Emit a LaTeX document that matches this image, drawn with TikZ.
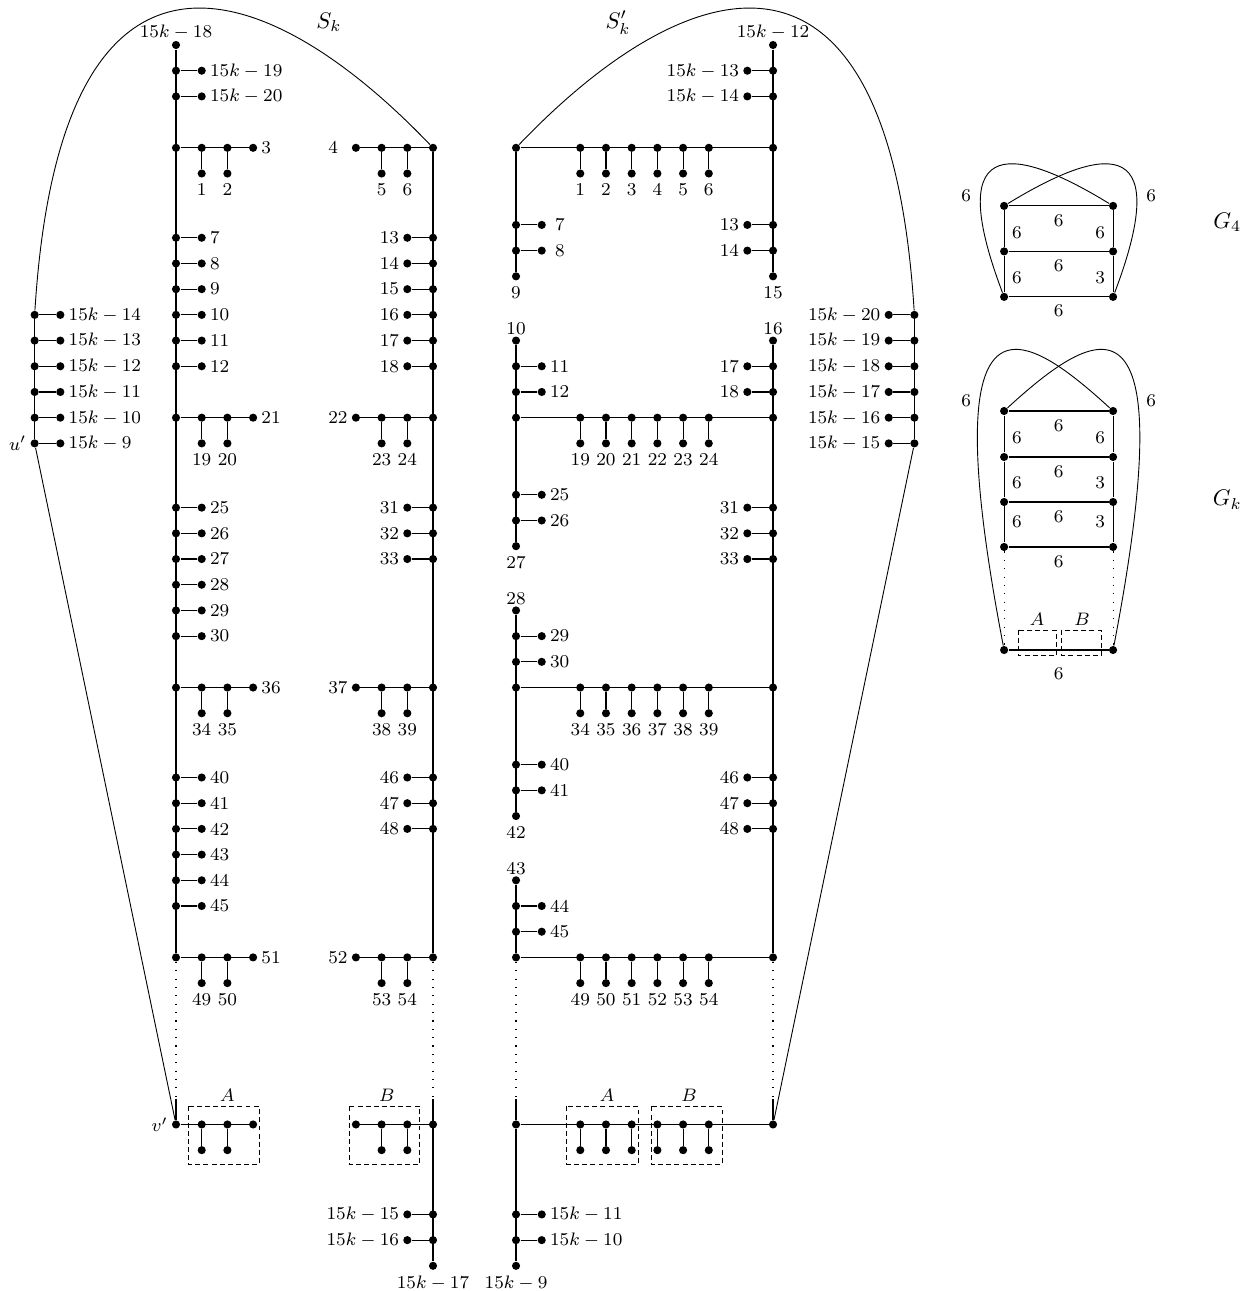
\documentclass[tikz,border=0pt]{standalone}
\usepackage{amsmath}
\usepackage{tikz}
\usetikzlibrary{positioning}
\tikzset{
  vtx/.style={circle, fill=black, inner sep=0pt, minimum size=3.6pt},
  gedge/.style={line width=0.5pt},
  gdots/.style={line width=0.5pt, dash pattern=on 0.5pt off 3.2pt},
  gbox/.style={thin, dash pattern=on 2.2pt off 1.4pt},
  glink/.style={thin},
  labr/.style={label={[inner sep=1.5pt]right:#1}},
  labl/.style={label={[inner sep=1.5pt]left:#1}},
  laba/.style={label={[inner sep=0.4pt]above:#1}},
  labb/.style={label={[inner sep=2.2pt]below:#1}},
  bigname/.style={font=\normalsize}
}

\begin{document}
\begin{tikzpicture}[x=0.4cm, y=0.4cm, font=\footnotesize]
  \useasboundingbox (-6.848,1.751) rectangle (41.83,-48.48);

  % S_k, left spine
  \node[vtx, laba={$15k-18$}] (a0) at (0,0) {};
  \foreach \y/\t [count=\i] in {1/$15k-19$, 2/$15k-20$, 7.5/7, 8.5/8, 9.5/9, 10.5/10, 11.5/11, 12.5/12,
      18/25, 19/26, 20/27, 21/28, 22/29, 23/30, 28.5/40, 29.5/41, 30.5/42, 31.5/43, 32.5/44, 33.5/45}{
    \node[vtx] (ap\i) at (0,-\y) {};
    \node[vtx, labr=\t] (aq\i) at (1,-\y) {};
    \draw[gedge] (ap\i) -- (aq\i);
  }
  \foreach \y/\r/\p/\q [count=\i] in {4/3/1/2, 14.5/21/19/20, 25/36/34/35, 35.5/51/49/50}{
    \node[vtx] (ar\i) at (0,-\y) {};
    \node[vtx] (ar\i-1) at (1,-\y) {};
    \node[vtx] (ar\i-2) at (2,-\y) {};
    \node[vtx, labr=\r] (ar\i-3) at (3,-\y) {};
    \node[vtx, labb=\p] (al\i-1) at (1,-\y-1) {};
    \node[vtx, labb=\q] (al\i-2) at (2,-\y-1) {};
    \draw[gedge] (ar\i) -- (ar\i-3) (ar\i-1) -- (al\i-1) (ar\i-2) -- (al\i-2);
  }
  \node[vtx, labl={$v'$}] (vv) at (0,-42) {};
  \foreach \x in {1,2,3} \node[vtx] (ar5-\x) at (\x,-42) {};
  \foreach \x in {1,2}{
    \node[vtx] (al5-\x) at (\x,-43) {};
    \draw[gedge] (ar5-\x) -- (al5-\x);
  }
  \coordinate (a41) at (0,-41);
  \draw[gedge] (vv) -- (ar5-3);
  \draw[gedge] (a0) -- (ar4);
  \draw[gdots] (ar4) -- (a41);
  \draw[gedge] (a41) -- (vv);
  \draw[gbox] (0.47,-41.3) rectangle (3.23,-43.55);
  \node (boxa1) at (2,-40.85) {$A$};

  % S_k, column of u'
  \foreach \y/\t [count=\i] in {10.5/$15k-14$, 11.5/$15k-13$, 12.5/$15k-12$, 13.5/$15k-11$, 14.5/$15k-10$, 15.5/$15k-9$}{
    \node[vtx] (up\i) at (-5.5,-\y) {};
    \node[vtx, labr=\t] (uq\i) at (-4.5,-\y) {};
    \draw[gedge] (up\i) -- (uq\i);
  }
  \node[anchor=east, inner sep=1.5pt] (ulab) at (up6.west) {$u'$};
  \draw[gedge] (up1) -- (up6);

  % S_k, right spine
  \foreach \y/\t [count=\i] in {7.5/13, 8.5/14, 9.5/15, 10.5/16, 11.5/17, 12.5/18, 18/31, 19/32, 20/33,
      28.5/46, 29.5/47, 30.5/48, 45.5/$15k-15$, 46.5/$15k-16$}{
    \node[vtx] (bp\i) at (10,-\y) {};
    \node[vtx, labl=\t] (bq\i) at (9,-\y) {};
    \draw[gedge] (bp\i) -- (bq\i);
  }
  \foreach \y/\r/\p/\q [count=\i] in {4/4\kern4.25pt/5/6, 14.5/22/23/24, 25/37/38/39, 35.5/52/53/54}{
    \node[vtx] (br\i) at (10,-\y) {};
    \node[vtx] (br\i-1) at (9,-\y) {};
    \node[vtx] (br\i-2) at (8,-\y) {};
    \node[vtx, labl=\r] (br\i-3) at (7,-\y) {};
    \node[vtx, labb=\p] (bl\i-2) at (8,-\y-1) {};
    \node[vtx, labb=\q] (bl\i-1) at (9,-\y-1) {};
    \draw[gedge] (br\i) -- (br\i-3) (br\i-1) -- (bl\i-1) (br\i-2) -- (bl\i-2);
  }
  \node[vtx] (bb) at (10,-42) {};
  \foreach \x in {7,8,9} \node[vtx] (br5-\x) at (\x,-42) {};
  \foreach \x in {8,9}{
    \node[vtx] (bl5-\x) at (\x,-43) {};
    \draw[gedge] (br5-\x) -- (bl5-\x);
  }
  \node[vtx, labb={$15k-17$}] (bend) at (10,-47.5) {};
  \coordinate (b41) at (10,-41);
  \draw[gedge] (br5-7) -- (bb);
  \draw[gedge] (br1) -- (br4);
  \draw[gdots] (br4) -- (b41);
  \draw[gedge] (b41) -- (bend);
  \draw[gbox] (6.73,-41.3) rectangle (9.49,-43.55);
  \node (boxb1) at (8.2,-40.85) {$B$};

  \draw[glink] (up1) .. controls +(1,16) and +(-6.6,6.9) .. (br1);
  \draw[glink] (up6) -- (vv);
  \node[bigname] (skname) at (5.95,0.89) {$S_k$};

  % S'_k
  \begin{scope}[shift={(13.23,0)}]
    \foreach \y/\n [count=\i] in {4/0, 14.5/18, 25/33, 35.5/48}{
      \node[vtx] (cr\i) at (0,-\y) {};
      \node[vtx] (dr\i) at (10,-\y) {};
      \draw[gedge] (cr\i) -- (dr\i);
      \foreach \j in {1,...,6}{
        \pgfmathtruncatemacro{\lab}{\n+\j}
        \node[vtx] (cr\i-\j) at (1.5+\j,-\y) {};
        \node[vtx, labb=\lab] (cl\i-\j) at (1.5+\j,-\y-1) {};
        \draw[gedge] (cr\i-\j) -- (cl\i-\j);
      }
    }
    \node[vtx] (cr5) at (0,-42) {};
    \node[vtx] (dr5) at (10,-42) {};
    \draw[gedge] (cr5) -- (dr5);
    \foreach \j in {1,...,6}{
      \node[vtx] (cr5-\j) at (1.5+\j,-42) {};
      \node[vtx] (cl5-\j) at (1.5+\j,-43) {};
      \draw[gedge] (cr5-\j) -- (cl5-\j);
    }
    \draw[gbox] (1.98,-41.3) rectangle (4.75,-43.55);
    \draw[gbox] (5.25,-41.3) rectangle (8.02,-43.55);
    \node (boxa2) at (3.54,-40.85) {$A$};
    \node (boxb2) at (6.73,-40.85) {$B$};

    % left spine
    \foreach \y/\t [count=\i] in {7/\kern2.2pt7, 8/\kern2.2pt8, 12.5/11, 13.5/12, 17.5/25, 18.5/26, 23/29, 24/30,
        28/40, 29/41, 33.5/44, 34.5/45, 45.5/$15k-11$, 46.5/$15k-10$}{
      \node[vtx] (cp\i) at (0,-\y) {};
      \node[vtx, labr=\t] (cq\i) at (1,-\y) {};
      \draw[gedge] (cp\i) -- (cq\i);
    }
    \node[vtx, labb=9] (ce1) at (0,-9) {};
    \node[vtx, laba=10] (cs2) at (0,-11.5) {};
    \node[vtx, labb=27] (ce2) at (0,-19.5) {};
    \node[vtx, laba=28] (cs3) at (0,-22) {};
    \node[vtx, labb=42] (ce3) at (0,-30) {};
    \node[vtx, laba=43] (cs4) at (0,-32.5) {};
    \node[vtx, labb={$15k-9$}] (ce5) at (0,-47.5) {};
    \coordinate (c41) at (0,-41);
    \draw[gedge] (cr1) -- (ce1) (cs2) -- (ce2) (cs3) -- (ce3) (cs4) -- (cr4);
    \draw[gdots] (cr4) -- (c41);
    \draw[gedge] (c41) -- (cr5) -- (ce5);

    % right spine
    \node[vtx, laba={$15k-12$}] (dt) at (10,0) {};
    \foreach \y/\t [count=\i] in {1/$15k-13$, 2/$15k-14$, 7/13, 8/14, 12.5/17, 13.5/18, 18/31, 19/32, 20/33,
        28.5/46, 29.5/47, 30.5/48}{
      \node[vtx] (dp\i) at (10,-\y) {};
      \node[vtx, labl=\t] (dq\i) at (9,-\y) {};
      \draw[gedge] (dp\i) -- (dq\i);
    }
    \node[vtx, labb=15] (de1) at (10,-9) {};
    \node[vtx, laba=16] (ds2) at (10,-11.5) {};
    \coordinate (d41) at (10,-41);
    \draw[gedge] (dt) -- (de1) (ds2) -- (dr4);
    \draw[gdots] (dr4) -- (d41);
    \draw[gedge] (d41) -- (dr5);

    % column on the far right
    \foreach \y/\t [count=\i] in {10.5/$15k-20$, 11.5/$15k-19$, 12.5/$15k-18$, 13.5/$15k-17$, 14.5/$15k-16$, 15.5/$15k-15$}{
      \node[vtx] (ep\i) at (15.5,-\y) {};
      \node[vtx, labl=\t] (eq\i) at (14.5,-\y) {};
      \draw[gedge] (ep\i) -- (eq\i);
    }
    \draw[gedge] (ep1) -- (ep6);
    \draw[glink] (cr1) .. controls +(6.6,6.9) and +(-1,16) .. (ep1);
    \draw[glink] (ep6) -- (dr5);
  \end{scope}
  \node[bigname] (sk2name) at (17.2,0.86) {$S'_k$};

  % G_4
  \begin{scope}[shift={(32.22,-6.26)}]
    \node[vtx] (g4-1) at (0,0) {};
    \node[vtx] (g4-2) at (4.24,0) {};
    \node[vtx] (g4-3) at (0,-1.77) {};
    \node[vtx] (g4-4) at (4.24,-1.77) {};
    \node[vtx] (g4-5) at (0,-3.54) {};
    \node[vtx] (g4-6) at (4.24,-3.54) {};
    \draw[gedge] (g4-1) -- node[below] {6} (g4-2);
    \draw[gedge] (g4-3) -- node[below] {6} (g4-4);
    \draw[gedge] (g4-5) -- node[below] {6} (g4-6);
    \draw[gedge] (g4-1) -- node[right, pos=.62] {6} (g4-3);
    \draw[gedge] (g4-2) -- node[left, pos=.62] {6} (g4-4);
    \draw[gedge] (g4-3) -- node[right, pos=.6] {6} (g4-5);
    \draw[gedge] (g4-4) -- node[left, pos=.6] {3} (g4-6);
    \draw[glink] (g4-5) .. controls +(-2.5,6.6) and +(-3.6,2.2) .. (g4-2);
    \draw[glink] (g4-6) .. controls +(2.5,6.6) and +(3.6,2.2) .. (g4-1);
    \node (g4w) at (-1.48,0.38) {6};
    \node (g4e) at (5.72,0.38) {6};
  \end{scope}
  \node[bigname] (g4name) at (40.9,-6.89) {$G_4$};

  % G_k
  \begin{scope}[shift={(32.22,-14.24)}]
    \node[vtx] (k-1) at (0,0) {};
    \node[vtx] (k-2) at (4.24,0) {};
    \node[vtx] (k-3) at (0,-1.79) {};
    \node[vtx] (k-4) at (4.24,-1.79) {};
    \node[vtx] (k-5) at (0,-3.54) {};
    \node[vtx] (k-6) at (4.24,-3.54) {};
    \node[vtx] (k-7) at (0,-5.29) {};
    \node[vtx] (k-8) at (4.24,-5.29) {};
    \node[vtx] (k-9) at (0,-9.3) {};
    \node[vtx] (k-10) at (4.24,-9.3) {};
    \draw[gedge] (k-1) -- node[below] {6} (k-2);
    \draw[gedge] (k-3) -- node[below] {6} (k-4);
    \draw[gedge] (k-5) -- node[below] {6} (k-6);
    \draw[gedge] (k-7) -- node[below] {6} (k-8);
    \draw[gedge] (k-9) -- node[below=4pt] {6} (k-10);
    \draw[gedge] (k-1) -- node[right, pos=.6] {6} (k-3);
    \draw[gedge] (k-2) -- node[left, pos=.6] {6} (k-4);
    \draw[gedge] (k-3) -- node[right, pos=.6] {6} (k-5);
    \draw[gedge] (k-4) -- node[left, pos=.6] {3} (k-6);
    \draw[gedge] (k-5) -- node[right, pos=.42] {6} (k-7);
    \draw[gedge] (k-6) -- node[left, pos=.42] {3} (k-8);
    \draw[gdots] (k-7) -- (k-9);
    \draw[gdots] (k-8) -- (k-10);
    \draw[glink] (k-9) .. controls +(-2.8,14.6) and +(-3.6,3.3) .. (k-2);
    \draw[glink] (k-10) .. controls +(2.8,14.6) and +(3.6,3.3) .. (k-1);
    \draw[gbox] (0.54,-8.52) rectangle (2.02,-9.53);
    \draw[gbox] (2.25,-8.52) rectangle (3.77,-9.53);
    \node (boxa3) at (1.28,-8.09) {$A$};
    \node (boxb3) at (3.03,-8.09) {$B$};
    \node (gkw) at (-1.48,0.39) {6};
    \node (gke) at (5.72,0.39) {6};
  \end{scope}
  \node[bigname] (gkname) at (40.9,-17.7) {$G_k$};
\end{tikzpicture}
\end{document}
